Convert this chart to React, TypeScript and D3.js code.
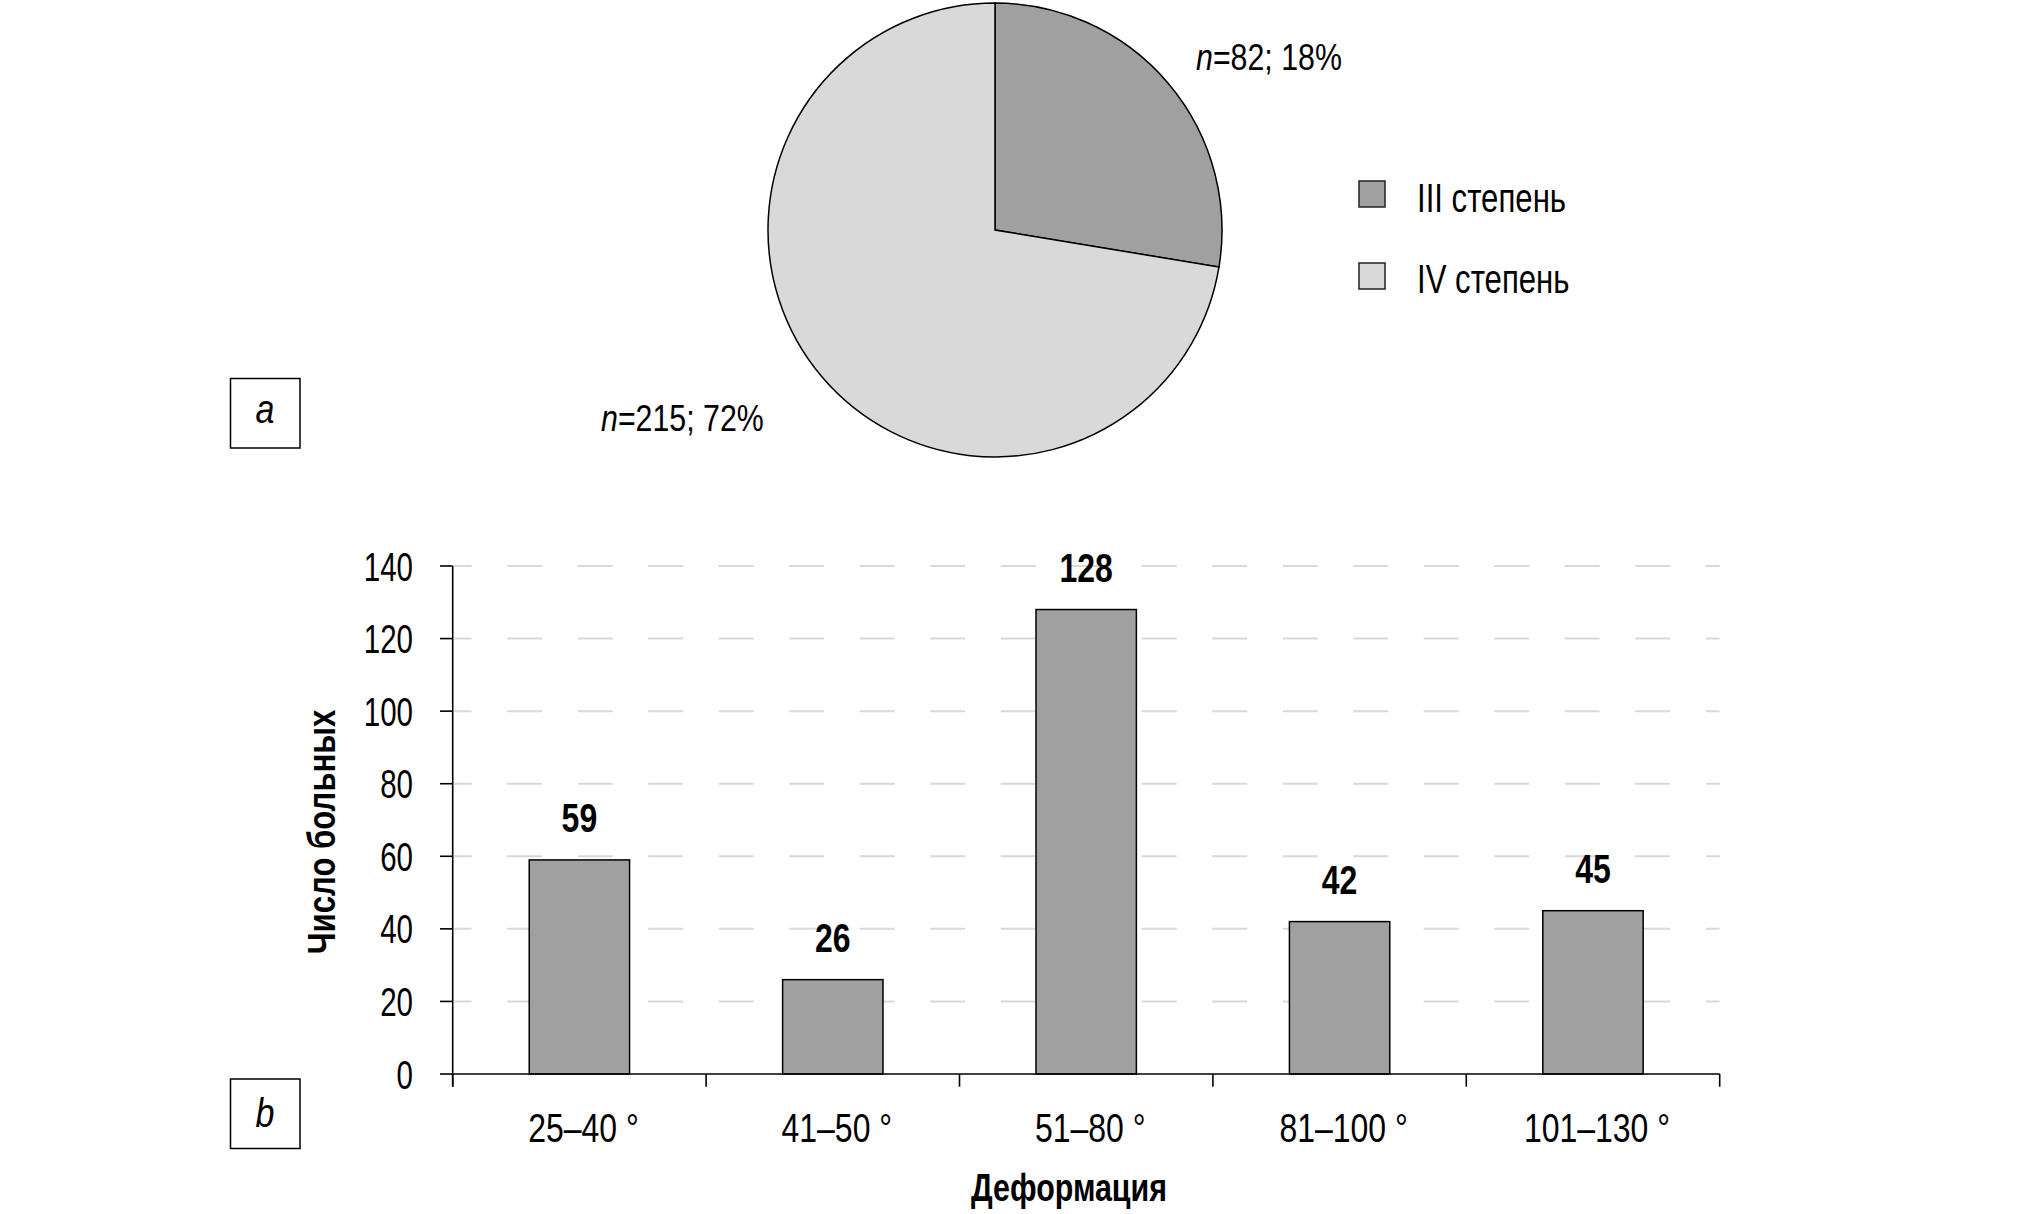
import React, { useRef, useEffect } from 'react';
import * as d3 from 'd3';

// pie (a)
const gradeLabels = ['III степень', 'IV степень'];
const gradeCounts = [82, 215];
const gradeShares = ['18%', '72%'];
const gradeColors = ['#a0a0a0', '#d9d9d9'];

// bars (b)
const deformation = ['25–40 °', '41–50 °', '51–80 °', '81–100 °', '101–130 °'];
const patients = [59, 26, 128, 42, 45];
const yTicks = [0, 20, 40, 60, 80, 100, 120, 140];

const FONT = '"Liberation Sans", Arial, sans-serif';

// condensed look: squeeze Liberation Sans horizontally around its anchor
const place = (x: number, y: number, sx: number, rot = 0) => `translate(${x}, ${y})${rot ? ` rotate(${rot})` : ''} scale(${sx}, 1)`;

function App(): React.ReactElement {
  const svgRef = useRef<SVGSVGElement | null>(null);

  useEffect(() => {
    const svg = d3.select(svgRef.current);
    svg.selectAll('*').remove();
    svg.style('font-family', FONT);

    // ---- pie ----
    const pie = d3.pie<number>()
      .sort(null)
      .value((d) => d);
    const arc = d3.arc<d3.PieArcDatum<number>>()
      .innerRadius(0)
      .outerRadius(227);

    const pieG = svg.append('g').attr('transform', 'translate(995, 230)');
    pieG.selectAll('path')
      .data(pie(gradeCounts))
      .join('path')
      .attr('d', arc)
      .attr('fill', (_d, i) => gradeColors[i])
      .attr('stroke', '#000')
      .attr('stroke-width', 1.5);

    const labelPos = [[1196, 70], [601, 431]];
    gradeCounts.forEach((n, i) => {
      const t = svg.append('text')
        .attr('transform', place(labelPos[i][0], labelPos[i][1], 0.82))
        .attr('font-size', 37)
        .attr('fill', '#000');
      t.append('tspan').attr('font-style', 'italic').text('n');
      t.append('tspan').text(`=${n}; ${gradeShares[i]}`);
    });

    // legend
    gradeLabels.forEach((lab, i) => {
      svg.append('rect')
        .attr('x', 1359)
        .attr('y', 181 + i * 82)
        .attr('width', 26)
        .attr('height', 26)
        .attr('fill', gradeColors[i])
        .attr('stroke', '#222')
        .attr('stroke-width', 1.5);
      svg.append('text')
        .attr('transform', place(1417, 212 + i * 81, 0.76))
        .attr('font-size', 41)
        .text(lab);
    });

    // panel letters
    [['a', 378.5, 423], ['b', 1079, 1127]].forEach(([ch, top, base]) => {
      svg.append('rect')
        .attr('x', 230.5)
        .attr('y', top as number)
        .attr('width', 69.5)
        .attr('height', 69.5)
        .attr('fill', 'none')
        .attr('stroke', '#000')
        .attr('stroke-width', 1.5);
      svg.append('text')
        .attr('transform', place(265, base as number, 0.85))
        .attr('text-anchor', 'middle')
        .attr('font-style', 'italic')
        .attr('font-size', 40)
        .text(ch as string);
    });

    // ---- bars ----
    const x0 = 452.7;
    const x1 = 1719.7;
    const x = d3.scaleBand<string>()
      .domain(deformation)
      .range([x0, x1])
      .padding(0);
    const y = d3.scaleLinear()
      .domain([0, 140])
      .range([1074, 566]);
    const bw = x.bandwidth();
    const barW = bw * 0.396;

    // dashed grid
    svg.append('g')
      .selectAll('line')
      .data(yTicks.filter((t) => t > 0))
      .join('line')
      .attr('x1', x0 + 1)
      .attr('x2', x1)
      .attr('y1', (d) => y(d))
      .attr('y2', (d) => y(d))
      .attr('stroke', '#d9d9d9')
      .attr('stroke-width', 2)
      .attr('stroke-dasharray', '35 35.5')
      .attr('stroke-dashoffset', 17);

    // bars
    svg.append('g')
      .selectAll('rect')
      .data(patients)
      .join('rect')
      .attr('x', (_d, i) => (x(deformation[i]) as number) + (bw - barW) / 2)
      .attr('y', (d) => y(d))
      .attr('width', barW)
      .attr('height', (d) => y(0) - y(d))
      .attr('fill', '#a0a0a0')
      .attr('stroke', '#000')
      .attr('stroke-width', 1.5);

    // value labels
    svg.append('g')
      .selectAll('text')
      .data(patients)
      .join('text')
      .attr('transform', (d, i) => place((x(deformation[i]) as number) + bw / 2, y(d) - 28, 0.8))
      .attr('text-anchor', 'middle')
      .attr('font-weight', 'bold')
      .attr('font-size', 40)
      .text((d) => d);

    // y axis
    const axis = svg.append('g').attr('stroke', '#000').attr('stroke-width', 1.6);
    axis.append('line')
      .attr('x1', x0).attr('x2', x0)
      .attr('y1', y(140)).attr('y2', y(0) + 12.7);
    axis.selectAll('line.ytick')
      .data(yTicks)
      .join('line')
      .attr('class', 'ytick')
      .attr('x1', 440).attr('x2', x0)
      .attr('y1', (d) => y(d)).attr('y2', (d) => y(d));

    // x axis
    axis.append('line')
      .attr('x1', x0).attr('x2', x1)
      .attr('y1', y(0)).attr('y2', y(0));
    const bounds = [...deformation.map((c) => x(c) as number), x1];
    axis.selectAll('line.xtick')
      .data(bounds)
      .join('line')
      .attr('class', 'xtick')
      .attr('x1', (d) => d).attr('x2', (d) => d)
      .attr('y1', y(0)).attr('y2', y(0) + 12.7);

    svg.append('g')
      .selectAll('text')
      .data(yTicks)
      .join('text')
      .attr('transform', (d) => place(413, y(d) + 14.5, 0.72))
      .attr('text-anchor', 'end')
      .attr('font-size', 41)
      .text((d) => d);

    svg.append('g')
      .selectAll('text')
      .data(deformation)
      .join('text')
      .attr('transform', (d) => place((x(d) as number) + bw / 2 + 4, 1141.5, 0.78))
      .attr('text-anchor', 'middle')
      .attr('font-size', 41)
      .text((d) => d);

    // titles
    svg.append('text')
      .attr('transform', place(1069, 1201, 0.8))
      .attr('text-anchor', 'middle')
      .attr('font-weight', 'bold')
      .attr('font-size', 38)
      .text('Деформация');

    svg.append('text')
      .attr('transform', place(335, 832, 0.82, -90))
      .attr('text-anchor', 'middle')
      .attr('font-weight', 'bold')
      .attr('font-size', 38)
      .text('Число больных');
  }, []);

  return (
    <div style={{ position: 'absolute', left: 0, top: 0 }}>
      <svg ref={svgRef} width={2020} height={1214} style={{ display: 'block', background: '#fff' }} />
    </div>
  );
}

export default App;
